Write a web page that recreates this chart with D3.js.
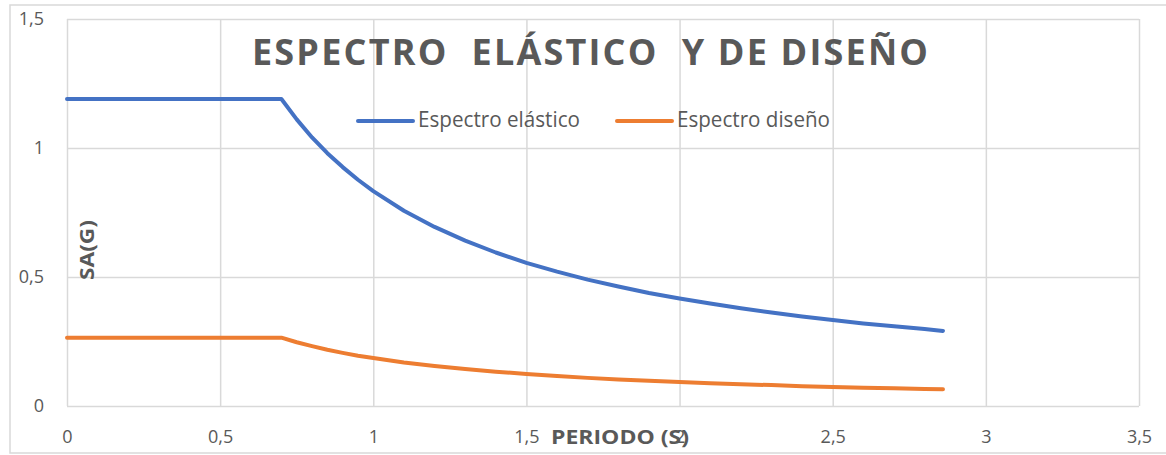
<!DOCTYPE html>
<html>
<head>
<meta charset="utf-8">
<script src="https://cdn.jsdelivr.net/npm/d3@7"></script>
<style>
  html, body { margin: 0; padding: 0; background: #ffffff; }
  svg { display: block; font-family: "Open Sans", "Noto Sans", sans-serif; }
</style>
</head>
<body>
<svg id="chart" width="1166" height="455"></svg>
<script>
// ---- Data ----
const periods = [0, 0.1, 0.2, 0.3, 0.4, 0.5, 0.6, 0.7, 0.75, 0.8, 0.85, 0.9, 0.95, 1.0, 1.1, 1.2, 1.3, 1.4, 1.5, 1.6, 1.7, 1.8, 1.9, 2.0, 2.1, 2.2, 2.3, 2.4, 2.5, 2.6, 2.7, 2.8, 2.86];
const elasticValues = [1.19, 1.19, 1.19, 1.19, 1.19, 1.19, 1.19, 1.19, 1.111, 1.041, 0.980, 0.926, 0.877, 0.833, 0.757, 0.694, 0.641, 0.595, 0.555, 0.521, 0.490, 0.463, 0.438, 0.417, 0.397, 0.379, 0.362, 0.347, 0.333, 0.320, 0.309, 0.298, 0.291];
const designValues = [0.265, 0.265, 0.265, 0.265, 0.265, 0.265, 0.265, 0.265, 0.247, 0.232, 0.218, 0.206, 0.195, 0.186, 0.169, 0.155, 0.143, 0.133, 0.124, 0.116, 0.109, 0.103, 0.098, 0.093, 0.088, 0.084, 0.081, 0.077, 0.074, 0.071, 0.069, 0.066, 0.065];
const seriesNames = ["Espectro elástico", "Espectro diseño"];
const xTicks = [0, 0.5, 1, 1.5, 2, 2.5, 3, 3.5];
const xTickLabels = ["0", "0,5", "1", "1,5", "2", "2,5", "3", "3,5"];
const yTicks = [0, 0.5, 1, 1.5];
const yTickLabels = ["0", "0,5", "1", "1,5"];
const chartTitle = "ESPECTRO  ELÁSTICO  Y DE DISEÑO";
const xTitle = "PERIODO (S)";
const yTitle = "SA(G)";

// ---- Layout ----
const svg = d3.select("#chart");
const plot = { left: 67, right: 1139, top: 19, bottom: 406 };
const colors = ["#4472C4", "#ED7D31"];
const gridColor = "#d9d9d9";
const textColor = "#595959";

// outer chart border
svg.append("rect")
  .attr("x", 10).attr("y", 5)
  .attr("width", 1180).attr("height", 448)
  .attr("fill", "none").attr("stroke", gridColor).attr("stroke-width", 1.5);

const x = d3.scaleLinear().domain([0, 3.5]).range([plot.left, plot.right]);
const y = d3.scaleLinear().domain([0, 1.5]).range([plot.bottom, plot.top]);

// gridlines + tick labels via axes
const xAxis = d3.axisBottom(x).tickValues(xTicks)
  .tickFormat((d, i) => xTickLabels[i])
  .tickSize(-(plot.bottom - plot.top)).tickPadding(24);
const gx = svg.append("g").attr("transform", `translate(0,${plot.bottom})`).call(xAxis);
gx.select(".domain").remove();
gx.selectAll(".tick line").attr("stroke", gridColor).attr("stroke-width", 1.5);
gx.selectAll(".tick text").attr("fill", textColor).attr("font-size", 18)
  .attr("font-family", "'Open Sans', sans-serif");

const yAxis = d3.axisLeft(y).tickValues(yTicks)
  .tickFormat((d, i) => yTickLabels[i])
  .tickSize(-(plot.right - plot.left)).tickPadding(23);
const gy = svg.append("g").attr("transform", `translate(${plot.left},0)`).call(yAxis);
gy.select(".domain").remove();
gy.selectAll(".tick line").attr("stroke", gridColor).attr("stroke-width", 1.5);
gy.selectAll(".tick text").attr("fill", textColor).attr("font-size", 18)
  .attr("font-family", "'Open Sans', sans-serif");

// series lines
const line = d3.line()
  .x((d, i) => x(periods[i]))
  .y(d => y(d))
  .curve(d3.curveLinear);

[elasticValues, designValues].forEach((vals, k) => {
  svg.append("path")
    .datum(vals)
    .attr("d", line)
    .attr("fill", "none")
    .attr("stroke", colors[k])
    .attr("stroke-width", 4)
    .attr("stroke-linecap", "round")
    .attr("stroke-linejoin", "round");
});

// title
svg.append("text")
  .attr("x", 252).attr("y", 65)
  .attr("font-size", 36).attr("font-weight", "bold")
  .attr("fill", textColor)
  .attr("textLength", 676).attr("lengthAdjust", "spacing")
  .style("white-space", "pre")
  .attr("xml:space", "preserve")
  .text(chartTitle);

// legend
const legendItems = [
  { x1: 358, x2: 413, tx: 418, tw: 162 },
  { x1: 617, x2: 672, tx: 677, tw: 153 }
];
legendItems.forEach((it, k) => {
  svg.append("line")
    .attr("x1", it.x1).attr("x2", it.x2)
    .attr("y1", 121).attr("y2", 121)
    .attr("stroke", colors[k]).attr("stroke-width", 4)
    .attr("stroke-linecap", "round");
  svg.append("text")
    .attr("x", it.tx).attr("y", 127)
    .attr("font-size", 21)
    .attr("fill", textColor)
    .attr("textLength", it.tw).attr("lengthAdjust", "spacingAndGlyphs")
    .text(seriesNames[k]);
});

// axis titles
svg.append("text")
  .attr("x", 551).attr("y", 444)
  .attr("font-size", 20).attr("font-weight", "bold")
  .attr("fill", textColor)
  .attr("textLength", 138).attr("lengthAdjust", "spacingAndGlyphs")
  .text(xTitle);

svg.append("text")
  .attr("transform", "translate(94,280) rotate(-90)")
  .attr("x", 0).attr("y", 0)
  .attr("font-size", 20).attr("font-weight", "bold")
  .attr("fill", textColor)
  .attr("textLength", 60).attr("lengthAdjust", "spacingAndGlyphs")
  .text(yTitle);
</script>
</body>
</html>
